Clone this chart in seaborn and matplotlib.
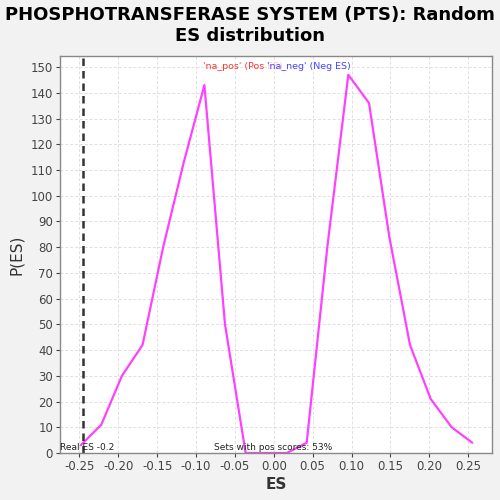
import matplotlib
matplotlib.use("Agg")
import matplotlib.pyplot as plt
import seaborn as sns
import pandas as pd

es_values = [-0.2482, -0.2217, -0.1952, -0.1687, -0.1422, -0.1157, -0.0892, -0.0627,
             -0.0362, -0.0097, 0.0168, 0.0423, 0.0688, 0.0958, 0.1224, 0.1485,
             0.1751, 0.2017, 0.2287, 0.2551]
p_values = [3, 11, 30, 42, 80, 113, 143, 50, 0, 0, 0, 4, 80, 147, 136, 84, 42, 21, 10, 4]
real_es = -0.2456
x_ticks = [-0.25, -0.20, -0.15, -0.10, -0.05, 0.00, 0.05, 0.10, 0.15, 0.20, 0.25]
y_ticks = list(range(0, 151, 10))

df = pd.DataFrame({"ES": es_values, "P": p_values})

sns.set_style("whitegrid")
plt.rcParams['font.family'] = ['DejaVu Sans']

fig = plt.figure(figsize=(5, 5), dpi=100, facecolor="#f2f2f2")
ax = fig.add_axes([0.12, 0.094, 0.864, 0.794])
ax.set_facecolor("white")

sns.lineplot(data=df, x="ES", y="P", ax=ax, color="#ff40ff", linewidth=1.6, sort=False)
ax.axvline(real_es, color="#333333", linestyle=(0, (3, 2)), linewidth=1.8)

ax.set_xlim(-0.2748, 0.2805)
ax.set_ylim(0, 154.3)
ax.set_xticks(x_ticks)
ax.set_xticklabels([f"{t:.2f}" for t in x_ticks])
ax.set_yticks(y_ticks)
ax.tick_params(axis="both", labelsize=8.5, colors="#444444", length=3, width=0.8,
               direction="out", bottom=True, left=True, pad=2)
for lbl in ax.get_xticklabels() + ax.get_yticklabels():
    lbl.set_color("#444444")

ax.grid(True, color="#e0e0e0", linestyle=(0, (3, 2)), linewidth=0.7)
for side, sp in ax.spines.items():
    sp.set_color("#888888")
    sp.set_linewidth(1.0)

ax.set_xlabel("ES", fontsize=11, fontweight="bold", color="#333333", labelpad=3)
ax.set_ylabel("P(ES)", fontsize=11, color="#333333", labelpad=5)

fig.suptitle("PHOSPHOTRANSFERASE SYSTEM (PTS): Random\nES distribution",
             fontsize=13, fontweight="bold", color="black", y=0.988, linespacing=1.2)

ax.text(0.0, 0.003, "Real ES -0.2", transform=ax.transAxes, fontsize=6.5,
        color="#222222", ha="left", va="bottom")
ax.text(0.494, 0.003, "Sets with pos scores: 53%", transform=ax.transAxes, fontsize=6.5,
        color="#222222", ha="center", va="bottom")

ax.text(0.33, 0.985, "'na_pos' (Pos ES)", transform=ax.transAxes, fontsize=6.8,
        color="#ff3333", ha="left", va="top")
ax.text(0.48, 0.985, "'na_neg' (Neg ES)", transform=ax.transAxes, fontsize=6.8,
        color="#4444ff", ha="left", va="top",
        bbox=dict(facecolor="white", edgecolor="none", alpha=0.75, pad=0))

fig.savefig("out.png", dpi=100, facecolor=fig.get_facecolor())
